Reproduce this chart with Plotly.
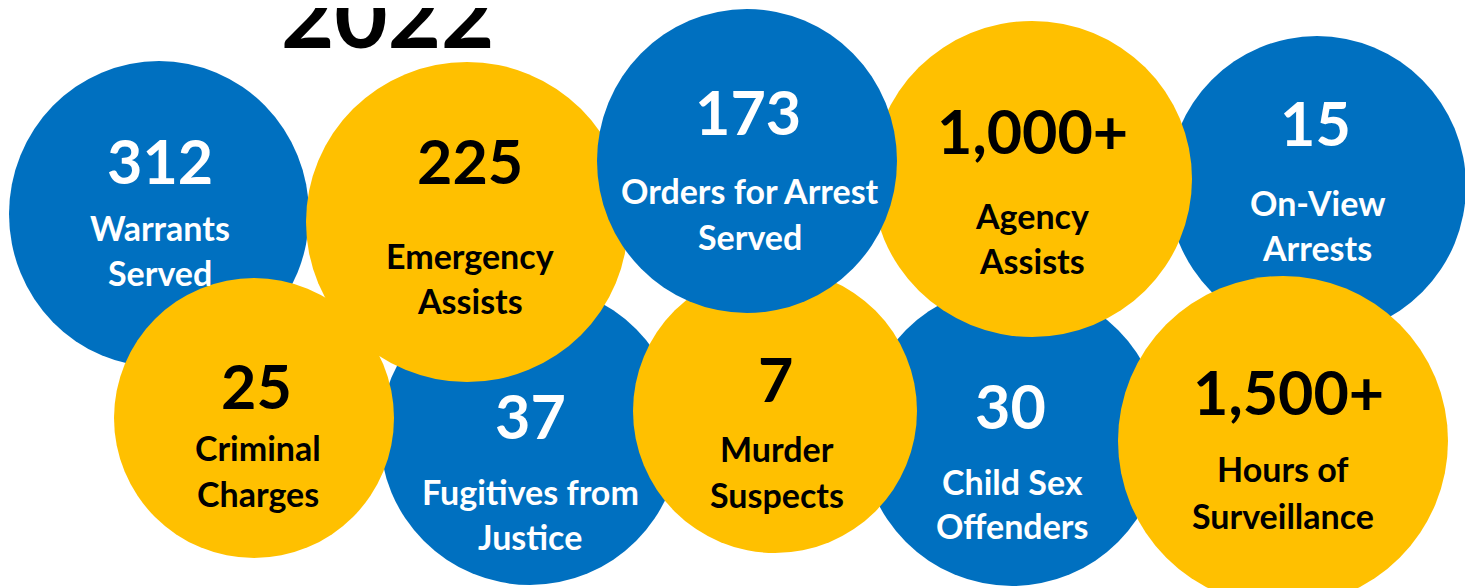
import plotly.graph_objects as go

# ---- data ----
title_text = "2022"
values = ["312", "225", "173", "1,000+", "15", "25", "37", "7", "30", "1,500+"]
labels = [
    ["Warrants", "Served"],
    ["Emergency", "Assists"],
    ["Orders for Arrest", "Served"],
    ["Agency", "Assists"],
    ["On-View", "Arrests"],
    ["Criminal", "Charges"],
    ["Fugitives from", "Justice"],
    ["Murder", "Suspects"],
    ["Child Sex", "Offenders"],
    ["Hours of", "Surveillance"],
]
kind = ["blue", "yellow", "blue", "yellow", "blue", "yellow", "blue", "yellow", "blue", "yellow"]

# ---- layout (pixel space of the page) ----
cx = [159, 467, 747, 1032, 1317, 254, 530, 775, 1012, 1283]
cy = [214, 222, 161, 179, 186, 418, 435, 411, 436, 441]
rx = [150, 161, 150, 160, 149, 140, 150, 142, 150, 165]
ry = [153, 160, 152, 158, 150, 140, 150, 142, 150, 165]
num_x = [160, 470, 748, 1032, 1315, 256, 530, 775, 1010, 1288]
num_y = [160, 160, 111, 130, 122, 385, 415, 378, 405, 391]
lab_x = [160, 470, 750, 1032, 1317, 258, 530, 777, 1012, 1283]
lab_y = [(227, 272), (255, 300), (190, 236), (215, 260), (202, 247),
         (447, 493), (491, 536), (448, 494), (481, 525), (468, 515)]
draw_order = [0, 6, 8, 4, 5, 1, 7, 3, 9, 2]

fill = {"blue": "#0070C0", "yellow": "#FFC000"}
txt = {"blue": "#FFFFFF", "yellow": "#000000"}
FONT = "Lato, 'Open Sans', sans-serif"

W, H = 1473, 588
OFF = 8  # default page body margin
fig = go.Figure()
fig.add_trace(go.Scatter(x=[OFF, W + OFF], y=[OFF, H + OFF], mode="markers",
                         marker=dict(opacity=0), hoverinfo="skip", showlegend=False))

shapes = []
for i in draw_order:
    shapes.append(dict(type="circle", xref="x", yref="y",
                       x0=cx[i] - rx[i], x1=cx[i] + rx[i],
                       y0=cy[i] - ry[i], y1=cy[i] + ry[i],
                       fillcolor=fill[kind[i]], line=dict(width=0), layer="above"))

annotations = []
for i in range(len(values)):
    c = txt[kind[i]]
    annotations.append(dict(x=num_x[i], y=num_y[i], xref="x", yref="y",
                            text=values[i], showarrow=False, xanchor="center", yanchor="middle",
                            font=dict(family=FONT, size=61, color=c, weight="bold")))
    for line, ly in zip(labels[i], lab_y[i]):
        annotations.append(dict(x=lab_x[i], y=ly, xref="x", yref="y",
                                text=line, showarrow=False, xanchor="center", yanchor="middle",
                                font=dict(family=FONT, size=34, color=c, weight="bold")))

annotations.append(dict(x=387, y=12, xref="x", yref="y", text=title_text, showarrow=False,
                        xanchor="center", yanchor="middle",
                        font=dict(family=FONT, size=92, color="#000000", weight="bold")))

fig.update_layout(
    width=W, height=H,
    margin=dict(l=0, r=0, t=0, b=0),
    paper_bgcolor="white", plot_bgcolor="white",
    xaxis=dict(range=[OFF, W + OFF], visible=False, fixedrange=True),
    yaxis=dict(range=[H + OFF, OFF], visible=False, fixedrange=True),
    shapes=shapes, annotations=annotations, showlegend=False,
)

fig.write_html("out.html", config={"displayModeBar": False})
